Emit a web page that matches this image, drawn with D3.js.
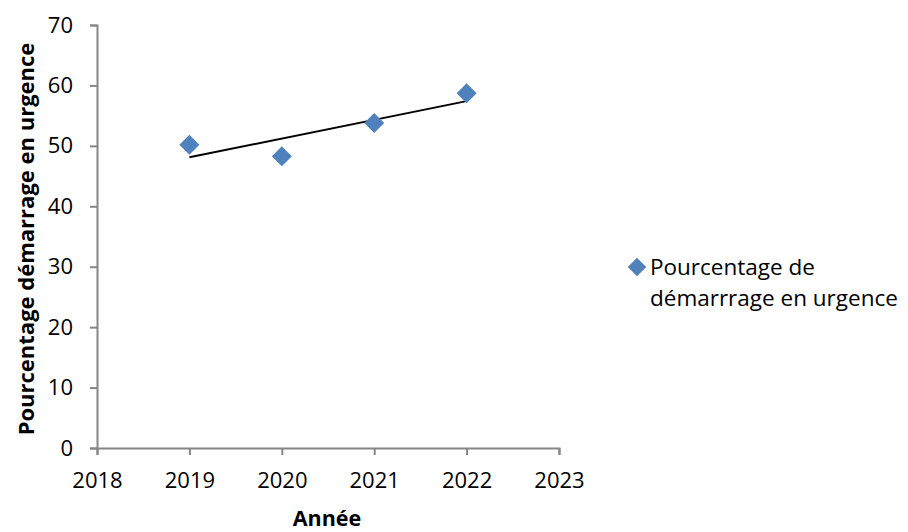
<!DOCTYPE html>
<html>
<head>
<meta charset="utf-8">
<script src="https://cdn.jsdelivr.net/npm/d3@7"></script>
<style>
  html, body { margin: 0; padding: 0; background: #fff; }
  svg { display: block; }
  text { font-family: "Open Sans", "Liberation Sans", sans-serif; fill: #000; }
</style>
</head>
<body>
<svg id="chart" width="908" height="532"></svg>
<script>
// ---- data ----
const years = [2019, 2020, 2021, 2022];
const values = [50.2, 48.3, 53.8, 58.7];
const xTicks = [2018, 2019, 2020, 2021, 2022, 2023];
const yTicks = [0, 10, 20, 30, 40, 50, 60, 70];
const seriesName = ["Pourcentage de", "démarrrage en urgence"];
const yTitle = "Pourcentage démarrage en urgence";
const xTitle = "Année";

const svg = d3.select("#chart");
const x = d3.scaleLinear().domain([2018, 2023]).range([97, 559]);
const y = d3.scaleLinear().domain([0, 70]).range([448, 25]);
const axisColor = "#868686";
const markerColor = "#4F81BD";

// y axis
const gy = svg.append("g").attr("transform", `translate(${x(2018)},0)`)
  .call(d3.axisLeft(y).tickValues(yTicks).tickSize(7).tickPadding(17).tickFormat(d3.format("d")));
gy.select(".domain").attr("stroke", axisColor).attr("stroke-width", 2);
gy.selectAll(".tick line").attr("stroke", axisColor).attr("stroke-width", 2);
gy.selectAll(".tick text").attr("font-size", 22).attr("font-family", "Open Sans").attr("fill", "#000");

// x axis
const gx = svg.append("g").attr("transform", `translate(0,${y(0)})`)
  .call(d3.axisBottom(x).tickValues(xTicks).tickSize(7).tickPadding(17).tickFormat(d3.format("d")));
gx.select(".domain").attr("stroke", axisColor).attr("stroke-width", 2);
gx.selectAll(".tick line").attr("stroke", axisColor).attr("stroke-width", 2);
gx.selectAll(".tick text").attr("font-size", 22).attr("font-family", "Open Sans").attr("fill", "#000");

// linear trend line (least squares from data)
const mx = d3.mean(years), my = d3.mean(values);
const slope = d3.sum(years, (d, i) => (d - mx) * (values[i] - my)) / d3.sum(years, d => (d - mx) ** 2);
const intercept = my - slope * mx;
const x0 = d3.min(years), x1 = d3.max(years);
svg.append("line")
  .attr("x1", x(x0)).attr("y1", y(intercept + slope * x0))
  .attr("x2", x(x1)).attr("y2", y(intercept + slope * x1))
  .attr("stroke", "#000").attr("stroke-width", 2);

// markers
const diamond = d3.symbol().type(d3.symbolSquare).size(200);
svg.selectAll("path.pt").data(years).join("path")
  .attr("class", "pt")
  .attr("d", diamond)
  .attr("transform", (d, i) => `translate(${x(d)},${y(values[i])}) rotate(45)`)
  .attr("fill", markerColor);

// axis titles
svg.append("text")
  .attr("transform", `translate(34,239) rotate(-90)`)
  .attr("text-anchor", "middle")
  .attr("font-size", 22).attr("font-weight", "bold")
  .text(yTitle);
svg.append("text")
  .attr("x", 327).attr("y", 526)
  .attr("text-anchor", "middle")
  .attr("font-size", 21.5).attr("font-weight", "bold")
  .text(xTitle);

// legend
const lg = svg.append("g");
lg.append("path")
  .attr("d", d3.symbol().type(d3.symbolSquare).size(170))
  .attr("transform", "translate(637,267) rotate(45)")
  .attr("fill", markerColor);
lg.selectAll("text").data(seriesName).join("text")
  .attr("x", 650).attr("y", (d, i) => 275 + i * 31)
  .attr("font-size", 22.5)
  .text(d => d);
</script>
</body>
</html>
